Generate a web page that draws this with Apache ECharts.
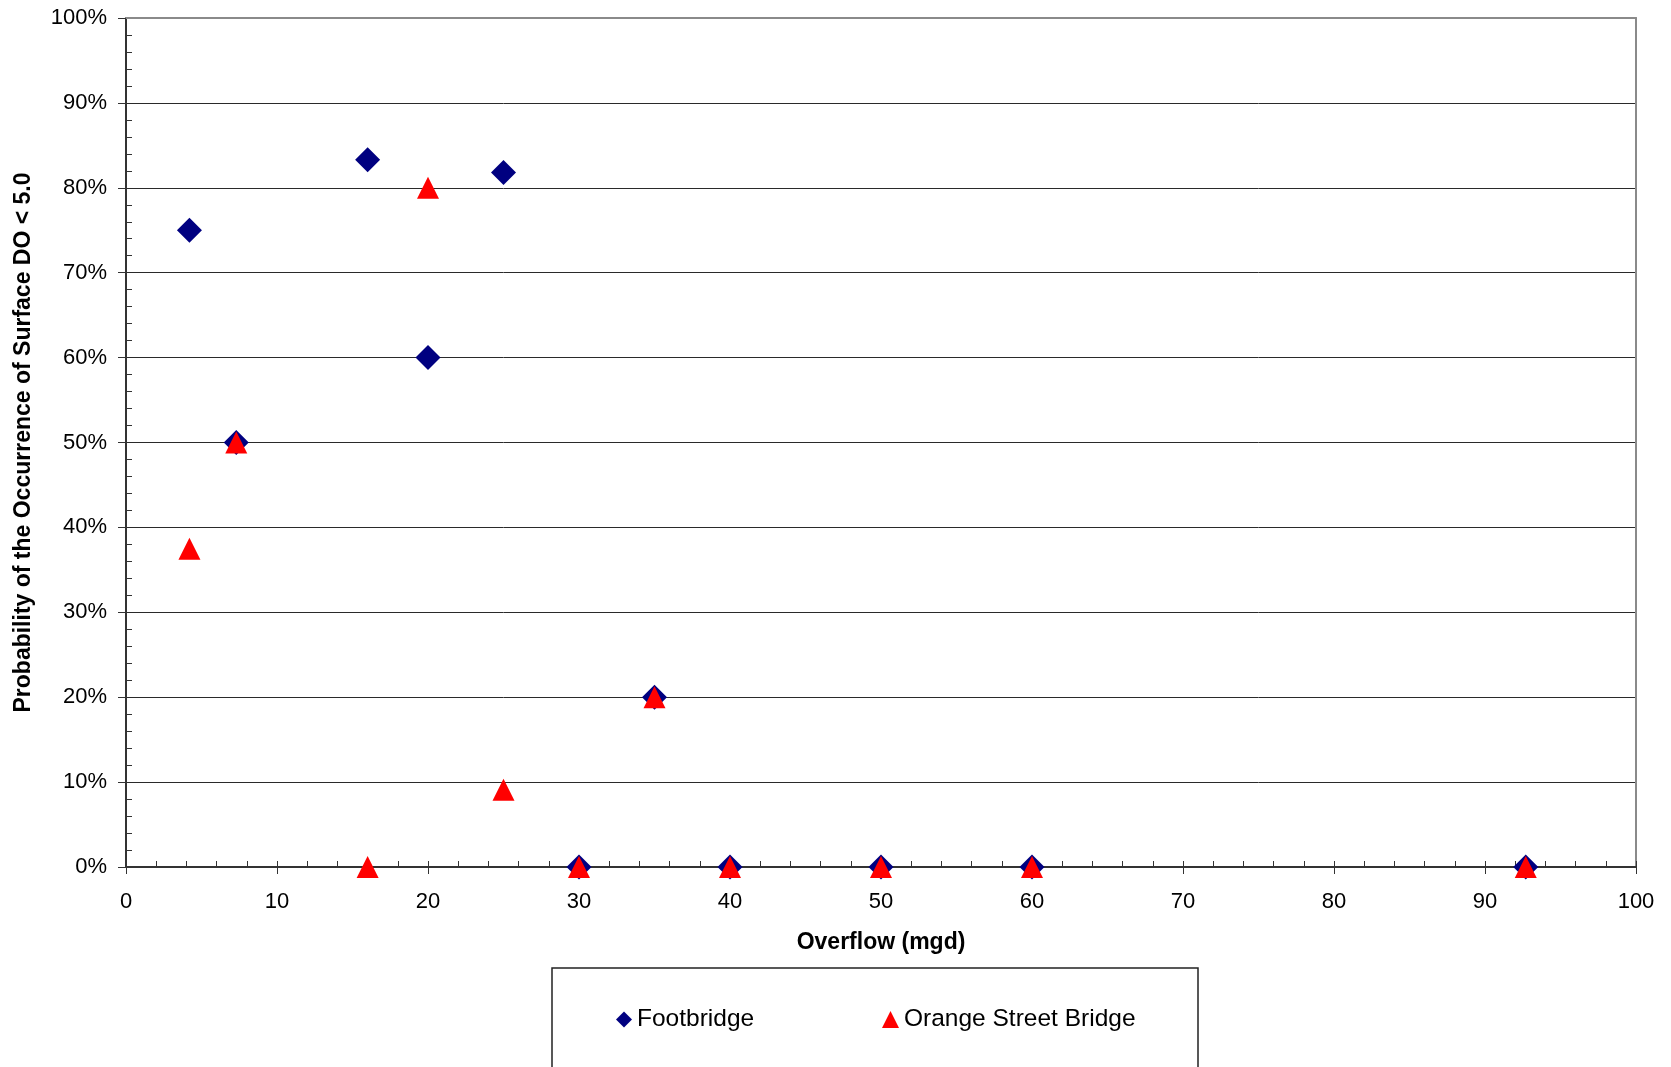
<!DOCTYPE html>
<html>
<head>
<meta charset="utf-8">
<script src="https://cdn.jsdelivr.net/npm/echarts@6/dist/echarts.min.js"></script>
<style>
html,body{margin:0;padding:0;background:#fff;}
#chart{width:1671px;height:1067px;}
</style>
</head>
<body>
<div id="chart"></div>
<script>
const overflow = [4.2, 7.3, 16, 20, 25, 30, 35, 40, 50, 60, 92.7];
const footbridge = [75, 50, 83.3, 60, 81.8, 0, 20, 0, 0, 0, 0];
const orangeStreet = [37.5, 50, 0, 80, 9.1, 0, 20, 0, 0, 0, 0];
const seriesNames = ['Footbridge', 'Orange Street Bridge'];
const xTitle = 'Overflow (mgd)';
const yTitle = 'Probability of the Occurrence of Surface DO < 5.0';

const FONT = '"Liberation Sans", Arial, sans-serif';
const AX = '#333';

const chart = echarts.init(document.getElementById('chart'), null, {renderer: 'canvas'});

function pairs(xs, ys) { return xs.map((x, i) => [x, ys[i]]); }

const option = {
  animation: false,
  backgroundColor: '#fff',
  grid: {left: 126, right: 35, top: 18, bottom: 200, outerBoundsMode: 'none', containLabel: false},
  xAxis: [
    {
      type: 'value', position: 'bottom', min: 0, max: 100, interval: 10,
      name: xTitle, nameLocation: 'middle', nameGap: 64, nameMoveOverlap: false,
      nameTextStyle: {fontFamily: FONT, fontSize: 23, fontWeight: 'bold', color: '#000'},
      axisLine: {show: true, onZero: false, lineStyle: {color: AX, width: 2}},
      axisTick: {show: true, inside: false, length: 7, lineStyle: {color: AX, width: 1}},
      axisLabel: {show: true, margin: 24, fontFamily: FONT, fontSize: 22, color: '#000'},
      splitLine: {show: false}
    },
    {
      type: 'value', position: 'bottom', min: 0, max: 100, interval: 10,
      axisLine: {show: false},
      axisTick: {show: true, inside: true, length: 6, lineStyle: {color: AX, width: 1}},
      minorTick: {show: true, splitNumber: 5, length: 6, lineStyle: {color: AX, width: 1}},
      axisLabel: {show: false},
      splitLine: {show: false}
    },
    {
      type: 'value', position: 'top', min: 0, max: 100, interval: 10,
      axisLine: {show: true, onZero: false, lineStyle: {color: '#8a8a8a', width: 2}},
      axisTick: {show: false}, axisLabel: {show: false}, splitLine: {show: false}
    }
  ],
  yAxis: [
    {
      type: 'value', position: 'left', min: 0, max: 100, interval: 10,
      name: yTitle, nameLocation: 'middle', nameGap: 91, nameMoveOverlap: false,
      nameTextStyle: {fontFamily: FONT, fontSize: 23, fontWeight: 'bold', color: '#000'},
      axisLine: {show: true, onZero: false, lineStyle: {color: AX, width: 2}},
      axisTick: {show: true, inside: false, length: 8, lineStyle: {color: AX, width: 1}},
      axisLabel: {show: true, margin: 19, fontFamily: FONT, fontSize: 22, color: '#000', formatter: '{value}%'},
      splitLine: {show: true, lineStyle: {color: '#2a2a2a', width: 1}}
    },
    {
      type: 'value', position: 'left', min: 0, max: 100, interval: 10,
      axisLine: {show: false},
      axisTick: {show: false, inside: true, length: 6},
      minorTick: {show: true, splitNumber: 5, length: 6, lineStyle: {color: AX, width: 1}},
      axisLabel: {show: false},
      splitLine: {show: false}
    },
    {
      type: 'value', position: 'right', min: 0, max: 100, interval: 10,
      axisLine: {show: true, onZero: false, lineStyle: {color: '#8a8a8a', width: 2}},
      axisTick: {show: false}, axisLabel: {show: false}, splitLine: {show: false}
    }
  ],
  legend: [
    {
      data: [{name: seriesNames[0], icon: 'diamond'}],
      left: 616, top: 1007, padding: 0, itemWidth: 16, itemHeight: 16, itemGap: 0,
      textStyle: {fontFamily: FONT, fontSize: 24.5, color: '#000'}
    },
    {
      data: [{name: seriesNames[1], icon: 'triangle'}],
      left: 882, top: 1007, padding: 0, itemWidth: 17, itemHeight: 17, itemGap: 0,
      textStyle: {fontFamily: FONT, fontSize: 24.5, color: '#000'}
    }
  ],
  graphic: [
    {
      type: 'rect', z: 100,
      shape: {x: 552, y: 968, width: 646, height: 160},
      style: {fill: 'none', stroke: '#222', lineWidth: 1.5}
    }
  ],
  series: [
    {
      name: seriesNames[0], type: 'scatter', xAxisIndex: 0, yAxisIndex: 0,
      symbol: 'diamond', symbolSize: 25,
      itemStyle: {color: '#000080', opacity: 1},
      emphasis: {disabled: true},
      data: pairs(overflow, footbridge)
    },
    {
      name: seriesNames[1], type: 'scatter', xAxisIndex: 0, yAxisIndex: 0,
      symbol: 'triangle', symbolSize: 22,
      itemStyle: {color: '#ff0000', opacity: 1},
      emphasis: {disabled: true},
      data: pairs(overflow, orangeStreet)
    }
  ]
};
chart.setOption(option);
</script>
</body>
</html>
